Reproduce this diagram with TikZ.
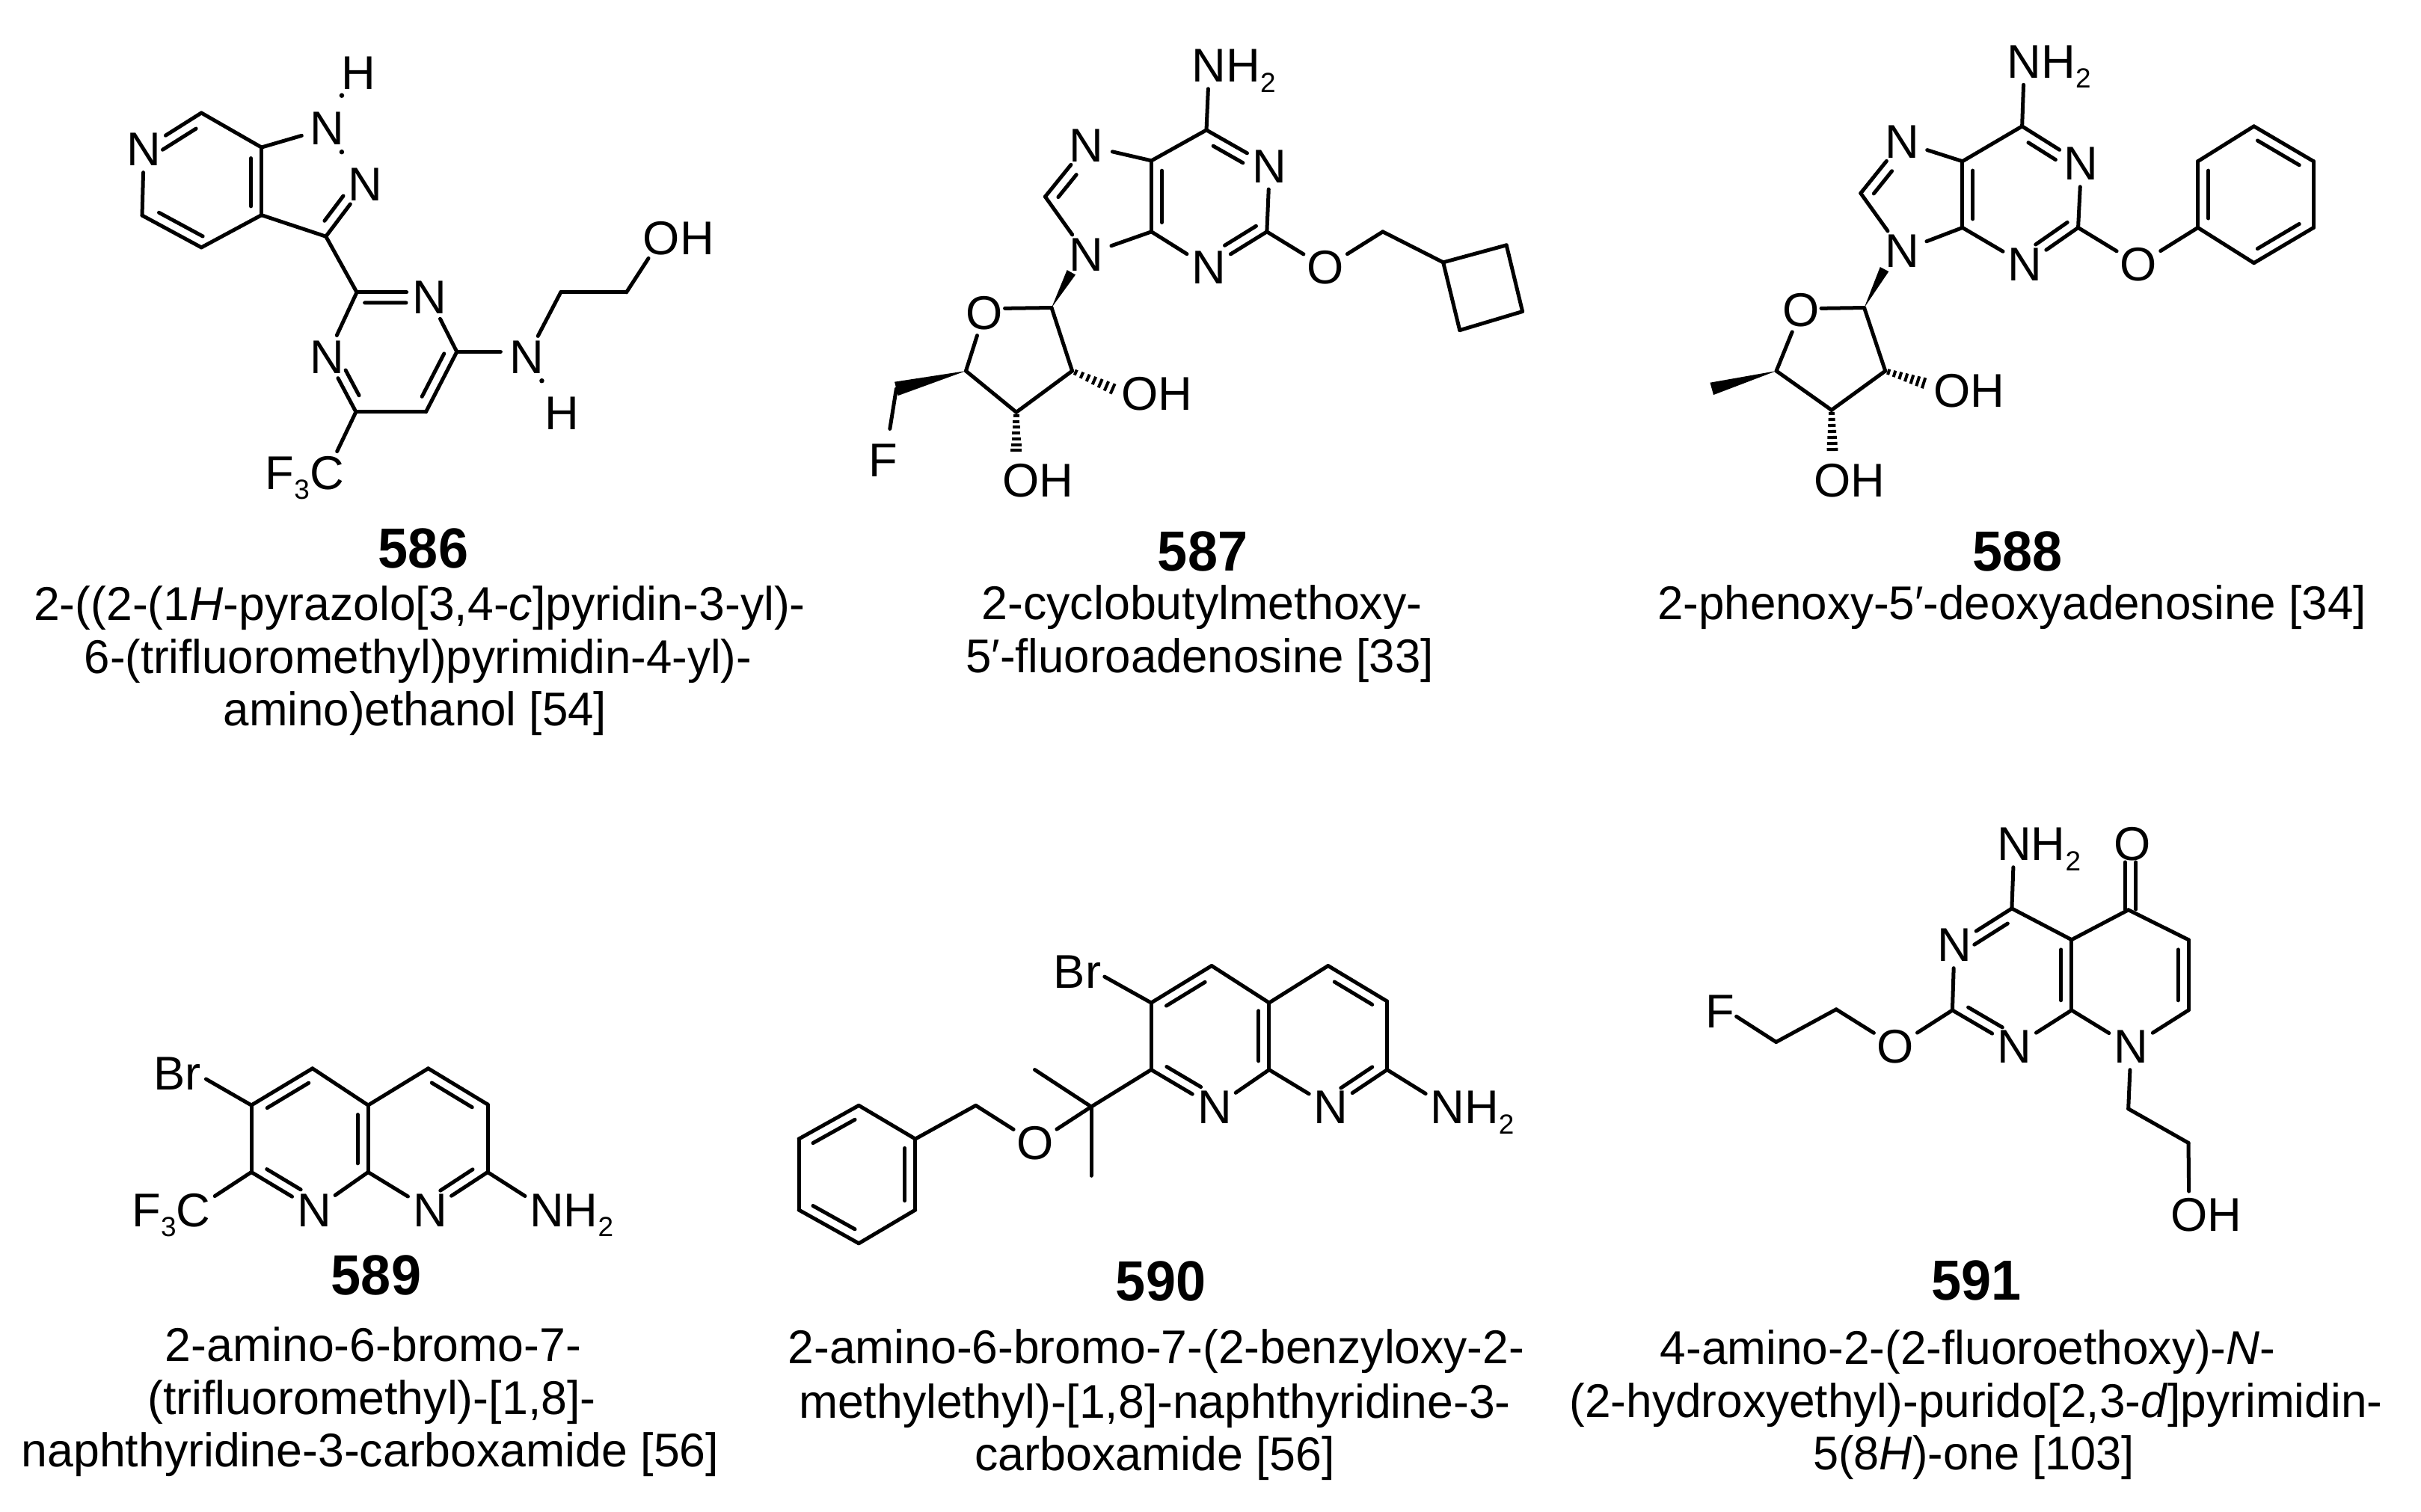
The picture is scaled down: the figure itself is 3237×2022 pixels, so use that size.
\documentclass[tikz,border=0pt]{standalone}
\usepackage{fontspec}
\setmainfont{Liberation Sans}
\usetikzlibrary{calc,shapes.geometric}
\newcommand{\subs}[1]{\raisebox{-3.8pt}{\fontsize{10.5}{12}\selectfont #1}}
\newcommand{\capw}[2]{\resizebox{#1cm}{\height}{#2}}
\tikzset{
  bondline/.style={line width=0.05cm,line cap=round,line join=round,black},
  atom/.style={ellipse,inner sep=0pt,outer sep=0pt,minimum width=0.72cm,minimum height=0.62cm,
    text height=0.44cm,text depth=0pt,font=\fontsize{18}{22}\selectfont},
  dotmark/.style={circle,fill=black,inner sep=0pt,minimum size=0.065cm},
  capline/.style={inner sep=0pt,anchor=base,font=\fontsize{18}{22}\selectfont},
  capnum/.style={inner sep=0pt,anchor=base,font=\fontsize{21.5}{25}\selectfont\bfseries},
}
\newcommand{\bonds}[1]{\foreach \p/\q in {#1} \draw[bondline] (\p) -- (\q);}
\newcommand{\inb}[5]{\begin{scope}[reset cm]\draw[bondline] ($(#1)!#4!(#2)!0.14cm!#3:(#2)$) -- ($(#1)!#5!(#2)!0.14cm!#3:(#2)$);\end{scope}}
\newcommand{\wdg}[3]{\begin{scope}[reset cm]\fill[black] (#1) -- ($(#2)!#3!90:(#1)$) -- ($(#2)!#3!-90:(#1)$) -- cycle;\end{scope}}
\newcommand{\hsh}[2]{\begin{scope}[reset cm]\foreach \t in {0.08,0.22,0.36,0.5,0.64,0.78,0.92}{
  \pgfmathsetmacro\hw{1.0+1.2*\t}
  \draw[line width=0.04cm,black] ($(#1)!\t!(#2)!\hw pt!90:(#2)$) -- ($(#1)!\t!(#2)!\hw pt!-90:(#2)$);}\end{scope}}
\begin{document}
\begin{tikzpicture}[x=0.01cm,y=-0.01cm]
\useasboundingbox (0,0) rectangle (3237,2022);
\fill[white] (0,0) rectangle (3237,2022);
%% 586
\begin{scope}[shift={(120,40)},xscale=0.574,yscale=0.408]
\coordinate (a1) at (260,272); \coordinate (a2) at (400,385); \coordinate (a3) at (400,607);
\coordinate (a4) at (260,713); \coordinate (a5) at (122,608); \coordinate (a6) at (550,677);
\coordinate (a7) at (622,860); \coordinate (a7e) at (738,860); \coordinate (a8) at (855,1055);
\coordinate (a8e) at (957,1055); \coordinate (a9) at (783,1252); \coordinate (a10) at (620,1252);
\coordinate (a11) at (1097,860); \coordinate (a12) at (1250,860);
\node[atom] (aNa) at (126,391) {N};
\node[atom] (aNb) at (553,322) {N};
\node[atom] (aHa) at (626,140) {H};
\node[atom] (aNc) at (641,507) {N};
\node[atom] (aNd) at (791,877) {N};
\node[atom] (aNe) at (552,1072) {N};
\node[atom] (aNf) at (1018,1073) {N};
\node[atom] (aHb) at (1100,1256) {H};
\node[atom] (aO) at (1332,682) {O\rlap{H}};
\node[atom] (aC) at (552,1452) {\llap{F\subs{3}}C};
\node[dotmark] (ad1) at (587,215) {};
\node[dotmark] (ad2) at (587,400) {};
\node[dotmark] (ad3) at (1053,1150) {};
\bonds{a5/aNa,aNa/a1,a1/a2,a2/a3,a3/a4,a4/a5,a2/aNb,a3/a6,a6/aNc,a6/a7,a7/a7e,a7/aNe,aNd/a8,a8/a9,a9/a10,a10/aNe,a10/aC,a8/a8e,aNf/a11,a11/a12,a12/aO}
\inb{a2}{a3}{-90}{0.16}{0.87}
\inb{a5}{a4}{90}{0.2}{0.94}
\inb{a1}{aNa}{90}{0.19}{0.77}
\inb{a6}{aNc}{90}{0.18}{0.66}
\inb{a7}{a7e}{-90}{0.16}{0.99}
\inb{a10}{aNe}{-90}{0.21}{0.67}
\inb{a9}{a8}{90}{0.175}{0.89}
\end{scope}
%% 587
\begin{scope}[shift={(1120,40)},xscale=0.6124,yscale=0.4184]
\coordinate (b1) at (805,320); \coordinate (b2) at (937,645); \coordinate (b3) at (685,645);
\coordinate (b4) at (685,418); \coordinate (b5) at (453,533); \coordinate (b6) at (1190,645);
\coordinate (b7) at (1322,743); \coordinate (b8) at (1460,688); \coordinate (b9) at (1495,900);
\coordinate (b10) at (1358,960); \coordinate (b11) at (467,888); \coordinate (b11e) at (365,890);
\coordinate (b11w) at (510,775); \coordinate (b12) at (280,1090); \coordinate (b13) at (390,1222);
\coordinate (b14) at (512,1090); \coordinate (b15) at (128,1147); \coordinate (b15e) at (114,1275);
\coordinate (b14h) at (608,1152); \coordinate (b13h) at (390,1355);
\node[atom] (bNH) at (811,114) {N\rlap{H\subs{2}}};
\node[atom] (bNa) at (943,435) {N};
\node[atom] (bNb) at (810,760) {N};
\node[atom] (bNc) at (543,370) {N};
\node[atom] (bNd) at (543,718) {N};
\node[atom] (bOa) at (1065,760) {O};
\node[atom] (bOb) at (320,905) {O};
\node[atom] (bF) at (100,1375) {F};
\node[atom] (bOc) at (660,1162) {O\rlap{H}};
\node[atom] (bOd) at (400,1441) {O\rlap{H}};
\bonds{b1/bNa,bNa/b2,b2/bNb,bNb/b3,b3/b4,b4/b1,b4/bNc,bNc/b5,b5/bNd,bNd/b3,b1/bNH,b2/bOa,bOa/b6,b6/b7,b7/b8,b8/b9,b9/b10,b10/b7,b11/b11e,bOb/b12,b12/b13,b13/b14,b14/b11,b15/b15e}
\inb{b1}{bNa}{-90}{0.19}{0.66}
\inb{b2}{bNb}{-90}{0.09}{0.63}
\inb{b4}{b3}{90}{0.14}{0.87}
\inb{b5}{bNc}{-90}{0.12}{0.56}
\wdg{b11}{b11w}{0.065cm}
\wdg{b12}{b15}{0.095cm}
\hsh{b14}{b14h}
\hsh{b13}{b13h}
\end{scope}
%% 588
\begin{scope}[shift={(2200,40)},xscale=0.5995,yscale=0.4184]
\coordinate (c1) at (840,308); \coordinate (c2) at (965,632); \coordinate (c3) at (707,632);
\coordinate (c4) at (707,420); \coordinate (c5) at (480,522); \coordinate (c6) at (488,888);
\coordinate (c6e) at (392,890); \coordinate (c6w) at (533,765); \coordinate (c7) at (292,1090);
\coordinate (c8) at (415,1215); \coordinate (c9) at (535,1090); \coordinate (c7w) at (148,1147);
\coordinate (c9h) at (628,1132); \coordinate (c8h) at (417,1352);
\coordinate (p1) at (1232,632); \coordinate (p2) at (1232,420); \coordinate (p3) at (1357,308);
\coordinate (p4) at (1490,420); \coordinate (p5) at (1490,632); \coordinate (p6) at (1357,745);
\node[atom] (cNH) at (845,101) {N\rlap{H\subs{2}}};
\node[atom] (cNa) at (972,427) {N};
\node[atom] (cNb) at (847,750) {N};
\node[atom] (cNc) at (572,358) {N};
\node[atom] (cNd) at (572,706) {N};
\node[atom] (cOa) at (1100,750) {O};
\node[atom] (cOb) at (347,895) {O};
\node[atom] (cOc) at (684,1152) {O\rlap{H}};
\node[atom] (cOd) at (417,1441) {O\rlap{H}};
\bonds{c1/cNa,cNa/c2,c2/cNb,cNb/c3,c3/c4,c4/c1,c4/cNc,cNc/c5,c5/cNd,cNd/c3,c1/cNH,c2/cOa,cOa/p1,p1/p2,p2/p3,p3/p4,p4/p5,p5/p6,p6/p1,c6/c6e,cOb/c7,c7/c8,c8/c9,c9/c6}
\inb{c1}{cNa}{-90}{0.2}{0.66}
\inb{c2}{cNb}{-90}{0.09}{0.69}
\inb{c4}{c3}{90}{0.14}{0.87}
\inb{c5}{cNc}{-90}{0.12}{0.56}
\inb{p2}{p1}{90}{0.14}{0.86}
\inb{p3}{p4}{-90}{0.15}{0.85}
\inb{p5}{p6}{-90}{0.15}{0.85}
\wdg{c6}{c6w}{0.065cm}
\wdg{c7}{c7w}{0.085cm}
\hsh{c9}{c9h}
\hsh{c8}{c8h}
\end{scope}
%% 589
\begin{scope}[shift={(140,1360)},xscale=0.4592,yscale=0.339]
\coordinate (d1) at (427,348); \coordinate (d1e) at (295,245); \coordinate (d2) at (605,203);
\coordinate (d3) at (767,348); \coordinate (d4) at (942,203); \coordinate (d5) at (1115,345);
\coordinate (d6) at (1115,612); \coordinate (d7) at (767,612); \coordinate (d8) at (427,612);
\node[atom] (dBr) at (212,224) {Br};
\node[atom] (dNa) at (947,761) {N};
\node[atom] (dNb) at (610,761) {N};
\node[atom] (dC) at (258,762) {\llap{F\subs{3}}C};
\node[atom] (dNH) at (1287,761) {N\rlap{H\subs{2}}};
\bonds{d1/d1e,d1/d2,d2/d3,d3/d4,d4/d5,d5/d6,d6/dNa,dNa/d7,d7/dNb,dNb/d8,d8/d1,d3/d7,d8/dC,d6/dNH}
\inb{d1}{d2}{-90}{0.17}{0.85}
\inb{d3}{d7}{-90}{0.14}{0.87}
\inb{d4}{d5}{-90}{0.15}{0.83}
\inb{d6}{dNa}{-90}{0.16}{0.72}
\inb{d8}{dNb}{90}{0.16}{0.7}
\end{scope}
%% 590
\begin{scope}[shift={(1030,1240)},xscale=0.657,yscale=0.339]
\coordinate (e1) at (775,298); \coordinate (e1e) at (680,195); \coordinate (e2) at (898,152);
\coordinate (e3) at (1015,298); \coordinate (e4) at (1135,152); \coordinate (e5) at (1255,292);
\coordinate (e6) at (1255,562); \coordinate (e7) at (1015,562); \coordinate (e8) at (775,562);
\coordinate (e9) at (653,708); \coordinate (m1) at (538,562); \coordinate (m2) at (653,980);
\coordinate (e10) at (418,703);
\coordinate (f1) at (295,835); \coordinate (f2) at (295,1115); \coordinate (f3) at (180,1247);
\coordinate (f4) at (58,1115); \coordinate (f5) at (58,835); \coordinate (f6) at (180,703);
\node[atom] (eBr) at (625,175) {Br};
\node[atom] (eNa) at (1141,710) {N};
\node[atom] (eNb) at (904,710) {N};
\node[atom] (eO) at (539,852) {O};
\node[atom] (eNH) at (1378,710) {N\rlap{H\subs{2}}};
\bonds{e1/e1e,e1/e2,e2/e3,e3/e4,e4/e5,e5/e6,e6/eNa,eNa/e7,e7/eNb,eNb/e8,e8/e1,e3/e7,e6/eNH,e8/e9,e9/m1,e9/m2,e9/eO,eO/e10,e10/f1,f1/f2,f2/f3,f3/f4,f4/f5,f5/f6,f6/f1}
\inb{e1}{e2}{-90}{0.16}{0.8}
\inb{e3}{e7}{-90}{0.12}{0.87}
\inb{e4}{e5}{-90}{0.2}{0.84}
\inb{e6}{eNa}{-90}{0.16}{0.72}
\inb{e8}{eNb}{90}{0.16}{0.7}
\inb{f5}{f6}{-90}{0.15}{0.85}
\inb{f1}{f2}{-90}{0.13}{0.87}
\inb{f4}{f3}{90}{0.15}{0.85}
\end{scope}
%% 591
\begin{scope}[shift={(2260,1080)},xscale=0.4464,yscale=0.38]
\coordinate (g1) at (963,355); \coordinate (g2) at (785,713); \coordinate (g3) at (1142,713);
\coordinate (g4) at (1142,465); \coordinate (g5) at (1312,360); \coordinate (g6) at (1492,465);
\coordinate (g7) at (1492,713); \coordinate (g8) at (1312,1060); \coordinate (g9) at (1492,1180);
\coordinate (g10) at (437,710); \coordinate (g11) at (257,825); \coordinate (g11e) at (138,735);
\coordinate (g5a) at (1302,358); \coordinate (g5b) at (1335,358);
\coordinate (g5c) at (1302,192); \coordinate (g5d) at (1335,192);
\node[atom] (gNH) at (970,128) {N\rlap{H\subs{2}}};
\node[atom] (gOa) at (1323,128) {O};
\node[atom] (gNa) at (791,483) {N};
\node[atom] (gNb) at (971,841) {N};
\node[atom] (gNc) at (1320,841) {N};
\node[atom] (gOb) at (1494,1432) {O\rlap{H}};
\node[atom] (gOc) at (615,841) {O};
\node[atom] (gF) at (89,718) {F};
\bonds{g1/gNa,gNa/g2,g2/gNb,gNb/g3,g3/g4,g4/g1,g4/g5,g5/g6,g6/g7,g7/gNc,gNc/g3,g1/gNH,gNc/g8,g8/g9,g9/gOb,g2/gOc,gOc/g10,g10/g11,g11/g11e,g5a/g5c,g5b/g5d}
\inb{g1}{gNa}{90}{0.17}{0.75}
\inb{g2}{gNb}{90}{0.17}{0.72}
\inb{g3}{g4}{90}{0.14}{0.86}
\inb{g6}{g7}{-90}{0.14}{0.86}
\end{scope}
%% captions
\node[capnum] (n586) at (566,759) {\capw{1.2}{586}};
\node[capline] (t586a) at (561,829) {\capw{10.31}{2-((2-(1\textit{H}-pyrazolo[3,4-\textit{c}]pyridin-3-yl)-}};
\node[capline] (t586b) at (559,900) {\capw{8.92}{6-(trifluoromethyl)pyrimidin-4-yl)-}};
\node[capline] (t586c) at (555,970) {\capw{5.12}{amino)ethanol [54]}};
\node[capnum] (n587) at (1608,763) {\capw{1.2}{587}};
\node[capline] (t587a) at (1607,828) {\capw{5.89}{2-cyclobutylmethoxy-}};
\node[capline] (t587b) at (1604,899) {\capw{6.25}{5′-fluoroadenosine [33]}};
\node[capnum] (n588) at (2697,763) {\capw{1.2}{588}};
\node[capline] (t588a) at (2690,828) {\capw{9.47}{2-phenoxy-5′-deoxyadenosine [34]}};
\node[capnum] (n589) at (503,1731) {\capw{1.2}{589}};
\node[capline] (t589a) at (499,1820) {\capw{5.56}{2-amino-6-bromo-7-}};
\node[capline] (t589b) at (497,1891) {\capw{5.99}{(trifluoromethyl)-[1,8]-}};
\node[capline] (t589c) at (495,1961) {\capw{9.32}{naphthyridine-3-carboxamide [56]}};
\node[capnum] (n590) at (1552,1739) {\capw{1.2}{590}};
\node[capline] (t590a) at (1546,1823) {\capw{9.84}{2-amino-6-bromo-7-(2-benzyloxy-2-}};
\node[capline] (t590b) at (1544,1896) {\capw{9.51}{methylethyl)-[1,8]-naphthyridine-3-}};
\node[capline] (t590c) at (1544,1966) {\capw{4.81}{carboxamide [56]}};
\node[capnum] (n591) at (2642,1738) {\capw{1.2}{591}};
\node[capline] (t591a) at (2631,1824) {\capw{8.22}{4-amino-2-(2-fluoroethoxy)-\textit{N}-}};
\node[capline] (t591b) at (2642,1895) {\capw{10.86}{(2-hydroxyethyl)-purido[2,3-\textit{d}]pyrimidin-}};
\node[capline] (t591c) at (2639,1965) {\capw{4.29}{5(8\textit{H})-one [103]}};
\end{tikzpicture}
\end{document}
